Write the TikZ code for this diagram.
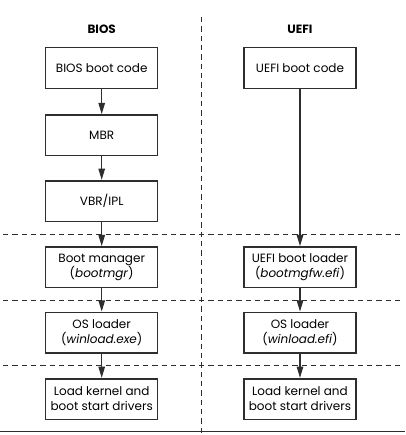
\documentclass[tikz,border=0pt]{standalone}
\usepackage{fontspec}
\setmainfont{Poppins}
\usetikzlibrary{arrows.meta}
\definecolor{ln}{HTML}{2E2E2E}
\tikzset{
  box/.style={draw=ln, line width=1.15pt, fill=white, minimum width=84pt, minimum height=30.4pt,
    inner sep=1pt, align=center, font=\fontsize{9}{11.25}\selectfont},
  ttl/.style={font=\fontsize{9}{11}\selectfont\bfseries},
  flow/.style={draw=ln, line width=1.1pt, -{Triangle[width=4.8pt,length=8.5pt]}},
  sep/.style={draw=ln, line width=1.2pt, dash pattern=on 4pt off 3pt},
}
\begin{document}
\begin{tikzpicture}[x=0.75pt,y=-0.75pt]
\useasboundingbox (0,0) rectangle (405,435);
% separators
\draw[sep] (201.5,17) -- (201.5,435);
\draw[sep] (3,234.5) -- (402,234.5);
\draw[sep] (3,300.5) -- (402,300.5);
\draw[sep] (3,365.5) -- (402,365.5);
\draw[draw=ln, line width=1.1pt] (0,431.5) -- (405,431.5);
% titles
\node[ttl] (tb) at (101.7,29) {BIOS};
\node[ttl] (tu) at (300,29) {UEFI};
% BIOS column
\node[box] (b1) at (101.7,68) {BIOS boot code};
\node[box] (b2) at (101.7,135.3) {MBR};
\node[box] (b3) at (101.7,201) {VBR/IPL};
\node[box] (b4) at (101.7,267.3) {Boot manager\\(\textit{bootmgr})};
\node[box] (b5) at (101.7,332.7) {OS loader\\(\textit{winload.exe})};
\node[box] (b6) at (101.7,399) {Load kernel and\\boot start drivers};
% UEFI column
\node[box] (u1) at (300,68) {UEFI boot code};
\node[box] (u4) at (300,267.3) {UEFI boot loader\\(\textit{bootmgfw.efi})};
\node[box] (u5) at (300,332.7) {OS loader\\(\textit{winload.efi})};
\node[box] (u6) at (300,399) {Load kernel and\\boot start drivers};
% arrows
\draw[flow] (b1) -- (b2);
\draw[flow] (b2) -- (b3);
\draw[flow] (b3) -- (b4);
\draw[flow] (b4) -- (b5);
\draw[flow] (b5) -- (b6);
\draw[flow] (u1) -- (u4);
\draw[flow] (u4) -- (u5);
\draw[flow] (u5) -- (u6);
\end{tikzpicture}
\end{document}
